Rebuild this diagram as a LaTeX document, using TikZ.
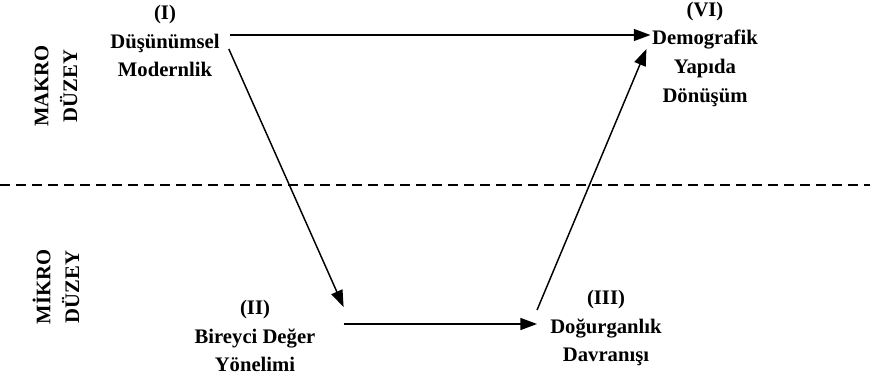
\documentclass[tikz,border=0pt]{standalone}
\usepackage{fontspec}
\setmainfont{Liberation Serif}
\usetikzlibrary{arrows.meta}
\begin{document}
\begin{tikzpicture}[
  x=0.75pt,y=-0.75pt,
  concept/.style={align=center, inner sep=0pt, font=\fontsize{15.5}{21.5}\selectfont\bfseries},
  level/.style={concept, rotate=90},
  arrow/.style={-{Triangle[length=12.5pt,width=9pt]}, line width=1.1pt}
]
\useasboundingbox (0,0) rectangle (870,375);
\draw[dash pattern=on 7.5pt off 4.5pt, line width=0.9pt] (0,185) -- (870,185);
\node[level] (makro) at (56,86) {MAKRO\\DÜZEY};
\node[level] (mikro) at (56,287) {MİKRO\\DÜZEY};
\node[concept] (I) at (165,41) {(I)\\Düşünümsel\\Modernlik};
\node[concept] (VI) at (705,54) {(VI)\\Demografik\\Yapıda\\Dönüşüm};
\node[concept] (II) at (255,336) {(II)\\Bireyci Değer\\Yönelimi};
\node[concept] (III) at (606,328) {(III)\\Doğurganlık\\Davranışı};
\draw[arrow] ([shift={(10,-6)}]I.east) -- ([shift={(-1.5,-19)}]VI.west);
\draw[arrow] ([shift={(9,8)}]I.east) -- ([shift={(28,-29)}]II.east);
\draw[arrow] ([shift={(28,-12)}]II.east) -- ([shift={(-13,-4)}]III.west);
\draw[arrow] ([shift={(-13,-18)}]III.west) -- ([shift={(-5.5,-5)}]VI.west);
\end{tikzpicture}
\end{document}
